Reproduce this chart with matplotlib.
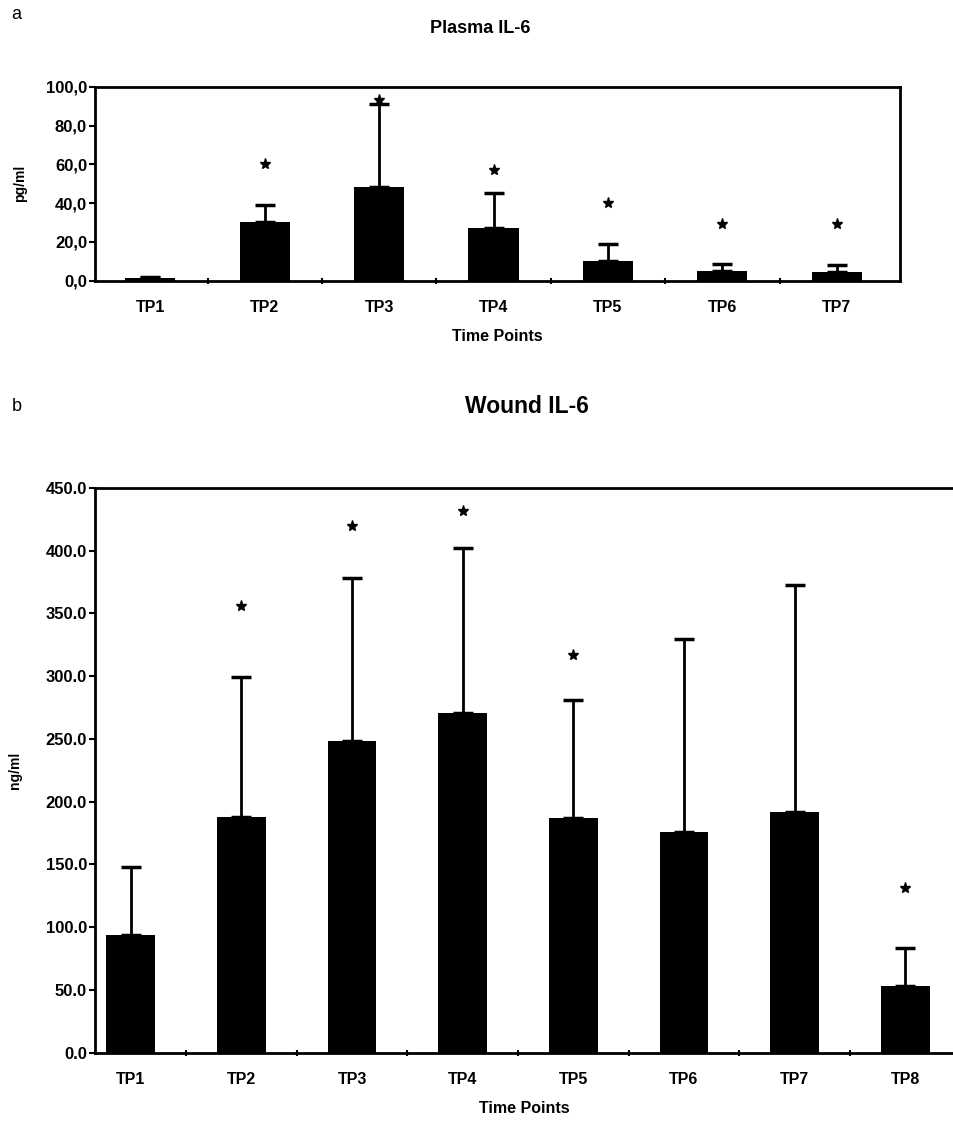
import matplotlib
matplotlib.use('Agg')
import matplotlib.pyplot as plt
import numpy as np

plt.rcParams['font.family'] = ['Liberation Sans', 'DejaVu Sans']
plt.rcParams['font.weight'] = 'bold'

# панель a - плазма
plasma_labels = ['TP1', 'TP2', 'TP3', 'TP4', 'TP5', 'TP6', 'TP7']
plasma_mean = [1.5, 30.0, 48.5, 27.0, 10.0, 5.0, 4.5]
plasma_upper = [1.8, 39.0, 91.0, 45.0, 19.0, 8.5, 8.0]
plasma_star = [None, 60.0, 93.0, 57.0, 40.0, 29.0, 29.0]
plasma_ticks = [0, 20, 40, 60, 80, 100]
plasma_ticklabels = ['0,0', '20,0', '40,0', '60,0', '80,0', '100,0']

# панель b - рана
wound_labels = ['TP1', 'TP2', 'TP3', 'TP4', 'TP5', 'TP6', 'TP7', 'TP8']
wound_mean = [94.0, 188.0, 248.0, 271.0, 187.0, 176.0, 192.0, 53.0]
wound_upper = [148.0, 299.0, 378.0, 402.0, 281.0, 330.0, 373.0, 83.0]
wound_star = [None, 356.0, 420.0, 432.0, 317.0, None, None, 131.0]
wound_ticks = [0, 50, 100, 150, 200, 250, 300, 350, 400, 450]
wound_ticklabels = ['0.0', '50.0', '100.0', '150.0', '200.0', '250.0', '300.0',
                    '350.0', '400.0', '450.0']


def draw_panel(ax, labels, mean, upper, star, ticks, ticklabels, ylabel, xlim, ylim):
    x = np.arange(len(labels))
    mean = np.array(mean)
    err = np.array(upper) - mean
    ax.bar(x, mean, width=0.44, color='black', zorder=2)
    ax.errorbar(x, mean, yerr=[np.zeros_like(err), err], fmt='none',
                ecolor='black', elinewidth=2, capsize=7, capthick=2.5, zorder=1)
    for i in range(len(star)):
        if star[i] is not None:
            ax.plot(x[i], star[i], marker='*', color='black', markersize=8,
                    linestyle='none', zorder=3)
    ax.set_xlim(xlim)
    ax.set_ylim(ylim)
    ax.set_yticks(ticks)
    ax.set_yticklabels(ticklabels, fontsize=12, fontweight='bold')
    ax.set_xticks(x)
    ax.set_xticklabels(labels, fontsize=11.5, fontweight='bold')
    ax.set_xticks(np.arange(len(labels) - 1) + 0.5, minor=True)
    ax.tick_params(axis='x', which='major', length=0, pad=14)
    ax.tick_params(axis='x', which='minor', length=5, width=1.5, direction='inout')
    ax.tick_params(axis='y', length=4, width=1.5, direction='out', pad=2)
    ax.set_ylabel(ylabel, fontsize=10, fontweight='bold', labelpad=3)
    ax.set_xlabel('Time Points', fontsize=11.5, fontweight='bold', labelpad=10)
    for s in ax.spines.values():
        s.set_linewidth(2)


fig = plt.figure(figsize=(9.54, 11.27), dpi=100)

ax1 = fig.add_axes([0.10, 0.751, 0.843, 0.172])
draw_panel(ax1, plasma_labels, plasma_mean, plasma_upper, plasma_star,
           plasma_ticks, plasma_ticklabels, 'pg/ml', (-0.48, 6.55), (0, 100))

ax2 = fig.add_axes([0.10, 0.066, 0.90, 0.501])
draw_panel(ax2, wound_labels, wound_mean, wound_upper, wound_star,
           wound_ticks, wound_ticklabels, 'ng/ml', (-0.32, 7.44), (0, 450))
ax2.spines['right'].set_visible(False)
ax2.yaxis.set_label_coords(-0.085, 0.5)
ax1.yaxis.set_label_coords(-0.085, 0.5)

fig.text(0.503, 0.975, 'Plasma IL-6', ha='center', va='center', fontsize=13, fontweight='bold')
fig.text(0.552, 0.639, 'Wound IL-6', ha='center', va='center', fontsize=16.5, fontweight='bold')
fig.text(0.012, 0.987, 'a', ha='left', va='center', fontsize=13, fontweight='normal')
fig.text(0.012, 0.639, 'b', ha='left', va='center', fontsize=13, fontweight='normal')

plt.savefig('out.png', dpi=100)
